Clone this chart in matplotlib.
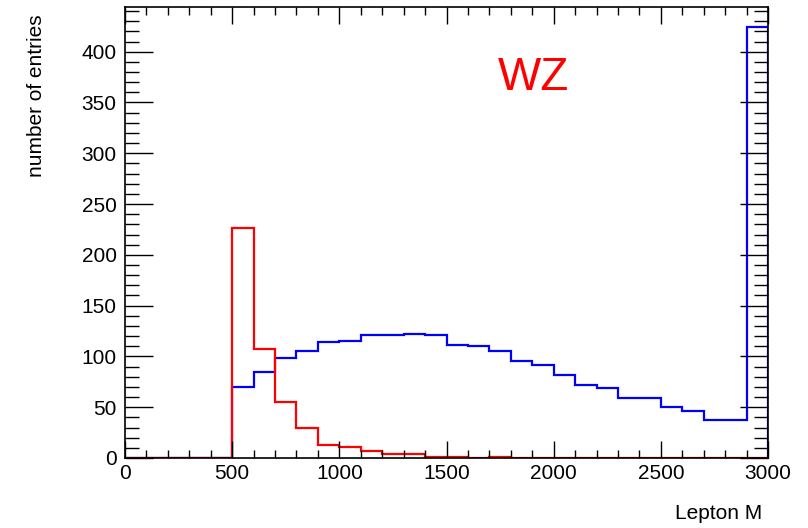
import numpy as np
import matplotlib

matplotlib.use("Agg")

import matplotlib.pyplot as plt
from matplotlib.ticker import MultipleLocator

# histogram contents, 30 bins of 100 from 0 to 3000
BIN_LOW = 0
BIN_HIGH = 3000
N_BINS = 30

wz_blue = [0, 0, 0, 0, 0, 70, 85, 98, 105, 114,
           115, 121, 121, 122, 121, 111, 110, 105, 95, 92,
           82, 72, 69, 59, 59, 50, 46, 37, 37, 424]
wz_red = [0, 0, 0, 0, 0, 226, 107, 55, 30, 13,
          11, 7, 4, 4, 1, 1, 0, 1, 0, 0,
          0, 0, 0, 0, 0, 0, 0, 0, 0, 0]

plt.rcParams["font.family"] = ["Liberation Sans", "DejaVu Sans"]

fig = plt.figure(figsize=(8.08, 5.28), dpi=100)
ax = fig.add_axes([0.1547, 0.1326, 0.7958, 0.8541])

edges = np.linspace(BIN_LOW, BIN_HIGH, N_BINS + 1)
ax.stairs(wz_blue, edges, color="#0000ff", linewidth=1.6, baseline=0)
ax.stairs(wz_red, edges, color="#ff0000", linewidth=1.6, baseline=0)

ax.set_xlim(0, 3000)
ax.set_ylim(0, 444)

ax.xaxis.set_major_locator(MultipleLocator(500))
ax.xaxis.set_minor_locator(MultipleLocator(100))
ax.yaxis.set_major_locator(MultipleLocator(50))
ax.yaxis.set_minor_locator(MultipleLocator(10))

ax.tick_params(which="both", direction="in", top=True, right=True, width=1, labelsize=15)
ax.tick_params(axis="x", which="major", length=12, pad=4)
ax.tick_params(axis="x", which="minor", length=6)
ax.tick_params(axis="y", which="major", length=20, pad=6)
ax.tick_params(axis="y", which="minor", length=10)

for s in ax.spines.values():
    s.set_linewidth(1.2)

ax.text(1904, 374, "WZ", color="#ff0000", fontsize=33, ha="center", va="center")

fig.text(0.943, 0.01, "Lepton M", ha="right", va="bottom", fontsize=15)
fig.text(0.045, 0.972, "number of entries", rotation=90, ha="center", va="top", fontsize=15)

fig.savefig("out.png", dpi=100, facecolor="white")
plt.close(fig)
